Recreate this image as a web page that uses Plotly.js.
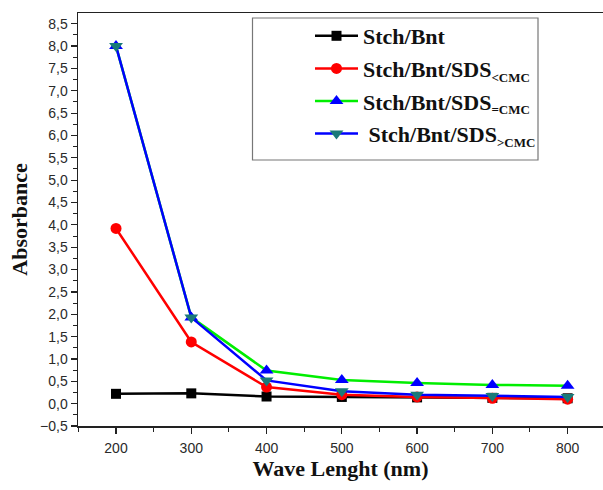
<!DOCTYPE html>
<html>
<head>
<meta charset="utf-8">
<script src="https://cdn.plot.ly/plotly-3.0.1.min.js"></script>
<style>html,body{margin:0;padding:0;background:#fff;}#chart{width:603px;height:490px;}</style>
</head>
<body>
<div id="chart"></div>
<script>
const wavelength = [200, 300, 400, 500, 600, 700, 800];
const stchBnt = [0.22, 0.23, 0.16, 0.15, 0.14, 0.13, 0.12];
const sdsBelowCMC = [3.92, 1.38, 0.37, 0.20, 0.15, 0.12, 0.10];
const sdsAtCMC = [8.0, 1.93, 0.74, 0.53, 0.46, 0.42, 0.40];
const sdsAboveCMC = [8.0, 1.93, 0.52, 0.28, 0.20, 0.17, 0.15];
const seriesNames = [
  "Stch/Bnt",
  "Stch/Bnt/SDS<sub><span style=\"font-size:13px\">&lt;CMC</span></sub>",
  "Stch/Bnt/SDS<sub><span style=\"font-size:13px\">=CMC</span></sub>",
  " Stch/Bnt/SDS<sub><span style=\"font-size:13px\">&gt;CMC</span></sub>"
];

const traces = [
  {x: wavelength, y: stchBnt, name: seriesNames[0], mode: 'lines+markers',
   line: {color: '#000000', width: 2.5}, marker: {symbol: 'square', size: 10, color: '#000000'}, legendgroup: 'a'},
  {x: wavelength, y: sdsBelowCMC, name: seriesNames[1], mode: 'lines+markers',
   line: {color: '#ff0000', width: 2.5}, marker: {symbol: 'circle', size: 11, color: '#ff0000'}, legendgroup: 'b'},
  {x: wavelength, y: sdsAtCMC, name: seriesNames[2], mode: 'lines+markers',
   line: {color: '#00ee00', width: 2.5}, marker: {symbol: 'triangle-up', size: 12, color: '#0000ff'}, legendgroup: 'c'},
  {x: wavelength, y: sdsAboveCMC, name: seriesNames[3], mode: 'lines+markers',
   line: {color: '#0000ff', width: 2.5}, marker: {symbol: 'triangle-down', size: 12, color: '#1a7a78'}, legendgroup: 'd'}
];

const L = 78, T = 13, W = 525, H = 413;
function px(x){ return (x - L) / W; }
function py(y){ return 1 - (y - T) / H; }

const layout = {
  width: 603, height: 490,
  margin: {l: L, r: 0, t: T, b: 64, pad: 0},
  paper_bgcolor: '#ffffff', plot_bgcolor: '#ffffff',
  separators: ', ',
  showlegend: true,
  legend: {
    x: px(310), y: py(15), xanchor: 'left', yanchor: 'top',
    bgcolor: 'rgba(0,0,0,0)', borderwidth: 0,
    font: {family: 'Liberation Serif, Times New Roman, serif', size: 22, color: '#111', weight: 'bold'},
    tracegroupgap: 1, itemwidth: 43
  },
  xaxis: {
    range: [149.5, 847], showgrid: false, zeroline: false,
    showline: true, linecolor: '#222', linewidth: 1.5, mirror: true,
    ticks: 'outside', ticklen: 6, tickwidth: 1.2, tickcolor: '#222',
    tick0: 200, dtick: 100, ticklabelstandoff: 3,
    minor: {ticks: 'outside', ticklen: 4, tickwidth: 1, tickcolor: '#222', dtick: 50, tick0: 150},
    tickfont: {family: 'Liberation Sans, Arial, sans-serif', size: 14, color: '#2a2a2a'},
    title: {text: 'Wave Lenght (nm)', standoff: 5,
      font: {family: 'Liberation Serif, Times New Roman, serif', size: 22, color: '#111', weight: 'bold'}}
  },
  yaxis: {
    range: [-0.5, 8.74], showgrid: false, zeroline: false,
    showline: true, linecolor: '#222', linewidth: 1.5, mirror: false,
    ticks: 'outside', ticklen: 6, tickwidth: 1.2, tickcolor: '#222',
    tick0: -0.5, dtick: 0.5, tickformat: '.1f',
    minor: {ticks: 'outside', ticklen: 4, tickwidth: 1, tickcolor: '#222', dtick: 0.25, tick0: -0.5},
    tickfont: {family: 'Liberation Sans, Arial, sans-serif', size: 14, color: '#2a2a2a'},
    title: {text: 'Absorbance', standoff: 6,
      font: {family: 'Liberation Serif, Times New Roman, serif', size: 22, color: '#111', weight: 'bold'}}
  },
  shapes: [
    {type: 'rect', xref: 'paper', yref: 'paper',
     x0: px(252.5), x1: px(538), y0: py(160), y1: py(18),
     line: {color: '#777', width: 1.2}, fillcolor: 'rgba(0,0,0,0)', layer: 'above'}
  ]
};

Plotly.newPlot('chart', traces, layout, {displayModeBar: false, staticPlot: true});
</script>
</body>
</html>
